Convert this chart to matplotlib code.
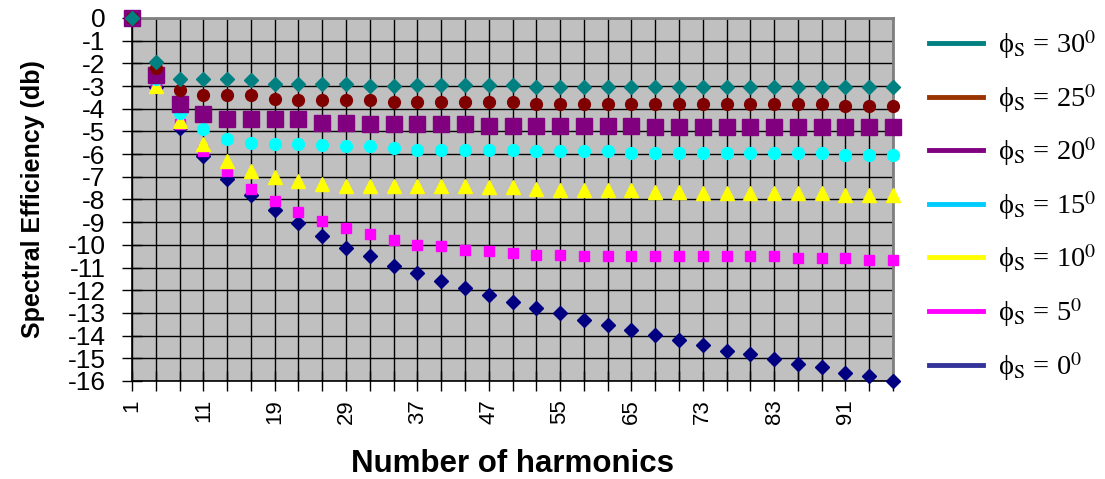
import matplotlib
matplotlib.use('Agg')
import matplotlib.pyplot as plt
from matplotlib.lines import Line2D

plt.rcParams['font.family'] = ['Liberation Sans', 'DejaVu Sans']
plt.rcParams['mathtext.fontset'] = 'stix'

# odd harmonics not divisible by 3
harmonics = [1, 5, 7, 11, 13, 17, 19, 23, 25, 29, 31, 35, 37, 41, 43, 47, 49,
             53, 55, 59, 61, 65, 67, 71, 73, 77, 79, 83, 85, 89, 91, 95, 97]

phi_30 = [0, -1.95, -2.7, -2.7, -2.7, -2.75, -2.9, -2.9, -2.93, -2.9, -2.98,
          -2.99, -2.97, -2.97, -2.97, -2.97, -2.97, -3.03, -3.03, -3.03, -3.03,
          -3.03, -3.03, -3.05, -3.03, -3.03, -3.05, -3.05, -3.05, -3.05, -3.05,
          -3.05, -3.05]
phi_25 = [0, -2.2, -3.16, -3.41, -3.41, -3.41, -3.56, -3.63, -3.63, -3.63,
          -3.63, -3.7, -3.7, -3.7, -3.7, -3.7, -3.7, -3.77, -3.77, -3.77, -3.77,
          -3.77, -3.77, -3.77, -3.77, -3.77, -3.77, -3.77, -3.77, -3.77, -3.86,
          -3.86, -3.86]
phi_20 = [0, -2.5, -3.78, -4.22, -4.44, -4.44, -4.44, -4.44, -4.63, -4.63,
          -4.66, -4.66, -4.66, -4.66, -4.66, -4.74, -4.74, -4.74, -4.74, -4.74,
          -4.74, -4.74, -4.82, -4.82, -4.82, -4.82, -4.82, -4.82, -4.82, -4.82,
          -4.82, -4.82, -4.82]
phi_15 = [0, -2.7, -4.2, -4.88, -5.34, -5.51, -5.56, -5.56, -5.59, -5.66, -5.66,
          -5.72, -5.81, -5.81, -5.81, -5.81, -5.81, -5.88, -5.88, -5.88, -5.88,
          -5.96, -5.96, -5.96, -5.96, -5.96, -5.96, -5.96, -5.96, -5.96, -6.03,
          -6.03, -6.03]
phi_10 = [0, -3.0, -4.56, -5.54, -6.3, -6.76, -7.03, -7.17, -7.3, -7.4, -7.4,
          -7.4, -7.4, -7.4, -7.4, -7.47, -7.47, -7.55, -7.58, -7.58, -7.58, -7.58,
          -7.68, -7.68, -7.7, -7.7, -7.7, -7.7, -7.7, -7.7, -7.8, -7.8, -7.8]
phi_5 = [0, -2.9, -4.66, -5.88, -6.76, -7.53, -8.05, -8.56, -8.93, -9.24, -9.53,
         -9.77, -10.0, -10.07, -10.22, -10.29, -10.37, -10.44, -10.44, -10.51,
         -10.51, -10.51, -10.51, -10.51, -10.51, -10.51, -10.51, -10.51, -10.59,
         -10.59, -10.59, -10.66, -10.66]
phi_0 = [0, -3.05, -4.85, -6.1, -7.1, -7.8, -8.46, -9.05, -9.59, -10.12, -10.48,
         -10.95, -11.22, -11.59, -11.91, -12.2, -12.5, -12.79, -13.01, -13.3,
         -13.55, -13.77, -13.98, -14.21, -14.43, -14.67, -14.8, -15.04, -15.26,
         -15.4, -15.63, -15.8, -16.0]

angles = [30, 25, 20, 15, 10, 5, 0]
series = [phi_30, phi_25, phi_20, phi_15, phi_10, phi_5, phi_0]
marker_colors = ['#008080', '#800000', '#800080', '#00FFFF', '#FFFF00', '#FF00FF', '#000080']
legend_colors = ['#008080', '#993300', '#800080', '#00CCFF', '#FFFF00', '#FF00FF', '#333399']
markers = ['D', 'o', 's', 'o', '^', 's', 'D']
sizes = [7, 8.5, 12, 8.5, 9.5, 7, 7]

fig = plt.figure(figsize=(11.05, 4.79), dpi=100)
ax = fig.add_axes([132 / 1105, 1 - 381 / 479, 761 / 1105, 363 / 479])
ax.set_facecolor('#C0C0C0')

pos = list(range(len(harmonics)))
for k in range(len(series)):
    ax.plot(pos, series[k], linestyle='none', marker=markers[k], ms=sizes[k],
            mfc=marker_colors[k], mec=marker_colors[k], clip_on=False,
            zorder=10 - k)

ax.set_xlim(0, len(harmonics) - 1)
ax.set_ylim(-16, 0)
ax.set_yticks(range(-16, 1))
ax.set_yticklabels([str(v) for v in range(-16, 1)], fontsize=19)
ax.set_xticks(pos)
ax.set_xticklabels([str(h) if i % 3 == 0 else '' for i, h in enumerate(harmonics)],
                   rotation=90, fontsize=16)
ax.tick_params(axis='both', direction='inout', length=14, width=1, color='black')
ax.tick_params(axis='y', pad=12)
ax.tick_params(axis='x', pad=6)
ax.grid(True, color='black', linewidth=1)
ax.set_axisbelow(True)
for s in ['top', 'right']:
    ax.spines[s].set_color('#808080')
    ax.spines[s].set_linewidth(2)
for s in ['left', 'bottom']:
    ax.spines[s].set_color('black')
    ax.spines[s].set_linewidth(1.2)

ax.set_xlabel('Number of harmonics', fontsize=22.5, fontweight='bold', labelpad=18)
ax.set_ylabel('Spectral Efficiency (db)', fontsize=18, fontweight='bold', labelpad=16)

handles = [Line2D([0], [0], color=c, lw=3.5) for c in legend_colors]
labels = ['ϕ$_\\mathrm{S}$ = %d$^\\mathrm{0}$' % a for a in angles]
fig.legend(handles, labels, loc='upper left', bbox_to_anchor=(918 / 1105, 1 - 17 / 479),
           frameon=False, handlelength=1.9, handletextpad=0.5,
           labelspacing=0.725, borderaxespad=0,
           prop={'family': ['Liberation Serif', 'DejaVu Serif'], 'size': 20.5})

fig.savefig('out.png', dpi=100)
